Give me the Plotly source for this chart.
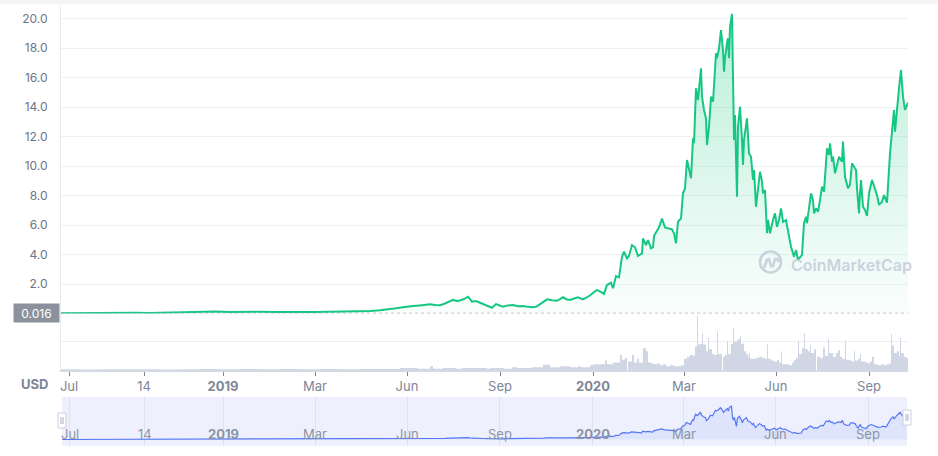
import pandas as pd
import plotly.graph_objects as go

W, H = 938, 456
START_DATE = "2018-06-16"

# (day since START_DATE, price in USD)
PRICE = [
    (0, 0.016), (14, 0.03), (29, 0.02), (44, 0.04), (59, 0.03), (74, 0.05), (89, 0.04), (104, 0.06),
    (119, 0.08), (134, 0.12), (144, 0.10), (154, 0.14), (169, 0.11), (184, 0.13), (199, 0.12), (214, 0.10),
    (229, 0.09), (239, 0.08), (254, 0.10), (269, 0.12), (284, 0.14), (299, 0.13), (309, 0.17), (319, 0.22),
    (329, 0.28), (335, 0.35), (342, 0.42), (347, 0.48), (352, 0.51), (359, 0.55), (364, 0.60), (369, 0.62),
    (374, 0.58), (379, 0.56), (384, 0.68), (389, 0.85), (392, 0.92), (396, 0.85), (399, 0.88), (403, 0.98),
    (407, 1.14), (411, 0.80), (415, 0.84), (419, 0.73), (423, 0.62), (427, 0.50), (431, 0.39), (435, 0.64),
    (439, 0.52), (442, 0.46), (447, 0.55), (452, 0.58), (457, 0.50), (462, 0.51), (467, 0.45), (472, 0.42),
    (476, 0.48), (479, 0.64), (483, 0.80), (486, 0.96), (491, 0.90), (496, 0.87), (499, 0.98), (502, 1.10),
    (506, 0.95), (509, 0.92), (513, 1.02), (517, 1.10), (522, 0.96), (526, 1.10), (529, 1.22), (533, 1.45),
    (536, 1.59), (539, 1.50), (541, 1.41), (543, 1.33), (546, 1.93), (550, 2.09), (552, 1.71), (555, 2.54),
    (558, 2.45), (561, 3.85), (563, 4.19), (566, 3.74), (568, 3.90), (571, 4.64), (574, 4.49), (577, 3.90),
    (581, 4.08), (582, 5.10), (585, 4.64), (587, 4.98), (590, 4.42), (592, 4.50), (593, 5.25), (596, 5.66),
    (598, 5.84), (601, 6.43), (604, 5.84), (607, 5.78), (611, 5.71), (613, 5.44), (615, 4.76), (617, 6.22),
    (620, 6.45), (622, 8.15), (624, 8.49), (626, 10.41), (628, 9.73), (630, 9.17), (632, 11.88), (633, 11.54),
    (635, 15.27), (637, 14.47), (640, 16.62), (641, 14.70), (643, 13.80), (645, 13.23), (646, 11.42), (648, 12.66),
    (650, 14.70), (652, 14.36), (653, 15.42), (655, 17.64), (656, 17.30), (658, 17.98), (660, 19.22), (662, 17.86),
    (663, 16.39), (664, 17.30), (666, 18.32), (667, 18.66), (668, 17.30), (669, 19.44), (671, 20.31), (672, 13.80),
    (673, 11.76), (674, 13.46), (676, 7.92), (677, 12.66), (679, 14.02), (681, 11.76), (682, 10.07), (683, 11.76),
    (685, 12.66), (686, 13.23), (688, 10.86), (690, 10.63), (692, 9.05), (693, 9.73), (695, 7.24), (697, 8.37),
    (699, 9.61), (701, 8.94), (702, 8.15), (704, 8.37), (706, 5.44), (707, 6.34), (709, 5.44), (712, 6.34),
    (714, 6.79), (716, 5.88), (718, 6.34), (720, 7.13), (722, 6.22), (725, 6.34), (727, 5.66), (730, 4.53),
    (733, 3.85), (735, 4.31), (737, 3.63), (741, 3.97), (743, 6.12), (745, 6.56), (746, 6.12), (748, 7.24),
    (750, 8.15), (752, 7.69), (753, 6.79), (755, 7.13), (757, 6.90), (759, 7.69), (761, 8.60), (763, 8.26),
    (765, 10.41), (766, 11.20), (768, 10.75), (769, 11.54), (771, 10.29), (772, 10.63), (774, 9.50), (776, 10.07),
    (778, 10.63), (781, 10.29), (782, 11.65), (784, 9.27), (786, 8.83), (787, 8.49), (789, 8.71), (791, 10.18),
    (793, 9.95), (795, 9.73), (796, 8.49), (798, 6.79), (799, 8.15), (800, 9.05), (802, 7.24), (804, 7.02),
    (806, 6.61), (808, 8.15), (811, 9.05), (813, 8.60), (816, 8.03), (818, 7.36), (821, 7.58), (823, 8.03),
    (826, 7.51), (829, 10.86), (831, 12.66), (833, 13.80), (834, 12.33), (836, 14.02), (838, 15.27), (840, 16.51),
    (842, 14.70), (844, 13.80), (846, 14.25), (847, 14.30),
]

# (day since START_DATE, volume in USD millions)
VOLUME = [
    (0, 0.8), (20, 0.6), (40, 0.9), (60, 0.7), (80, 0.8), (100, 0.6), (120, 0.9), (140, 1.0),
    (160, 0.8), (180, 1.0), (200, 0.9), (220, 1.0), (240, 0.8), (260, 1.0), (280, 0.9), (300, 1.0),
    (319, 1.1), (339, 2.0), (347, 2.0), (356, 1.2), (369, 4.0), (372, 1.2), (382, 2.0), (395, 1.2),
    (401, 2.0), (426, 1.2), (429, 2.0), (443, 1.4), (451, 3.0), (456, 2.0), (471, 3.0), (482, 5.5),
    (489, 3.0), (499, 4.0), (509, 3.0), (517, 4.0), (520, 3.0), (529, 5.0), (532, 6.0), (540, 6.5),
    (544, 10.0), (546, 6.0), (552, 8.0), (559, 16.0), (561, 11.0), (564, 13.0), (566, 0.0), (567, 9.0),
    (571, 16.0), (573, 8.0), (576, 12.0), (578, 8.0), (582, 23.0), (585, 20.0), (587, 8.0), (590, 7.0),
    (593, 6.0), (596, 7.0), (599, 5.0), (602, 6.0), (605, 4.0), (609, 5.0), (613, 4.0), (617, 4.0),
    (620, 5.0), (623, 12.0), (626, 14.0), (629, 16.0), (632, 15.0), (634, 25.0), (636, 57.0), (637, 27.0),
    (639, 28.0), (641, 39.0), (642, 27.0), (645, 20.0), (647, 34.0), (648, 22.0), (651, 17.0), (653, 16.0),
    (656, 41.0), (657, 17.0), (660, 17.0), (661, 0.0), (662, 14.0), (664, 16.0), (666, 31.0), (667, 17.0),
    (670, 28.0), (672, 45.0), (673, 30.0), (676, 32.0), (678, 33.0), (679, 36.0), (680, 28.0), (683, 20.0),
    (685, 17.0), (687, 14.0), (688, 18.0), (689, 12.0), (692, 12.0), (695, 13.0), (698, 14.0), (701, 13.0),
    (704, 12.0), (706, 27.0), (707, 12.0), (710, 10.0), (713, 9.0), (716, 11.0), (718, 8.0), (720, 20.0),
    (721, 6.0), (725, 6.0), (728, 5.0), (731, 8.0), (733, 11.0), (735, 13.0), (737, 31.0), (738, 17.0),
    (741, 23.0), (743, 39.0), (744, 22.0), (747, 20.0), (749, 26.0), (750, 18.0), (753, 22.0), (755, 0.0),
    (756, 14.0), (759, 13.0), (762, 24.0), (764, 15.0), (767, 33.0), (768, 18.0), (772, 14.0), (775, 18.0),
    (777, 21.0), (779, 14.0), (781, 12.0), (784, 31.0), (785, 11.0), (789, 10.0), (791, 9.0), (793, 20.0),
    (794, 10.0), (797, 12.0), (799, 17.0), (800, 9.0), (804, 8.0), (807, 7.0), (809, 9.0), (811, 14.0),
    (813, 6.0), (817, 5.0), (820, 6.0), (823, 5.0), (826, 6.0), (828, 7.0), (830, 38.0), (831, 26.0),
    (833, 18.0), (836, 20.0), (838, 15.0), (839, 34.0), (840, 18.0), (843, 14.0), (845, 13.0), (847, 12.0),
]

PRICE_TICKS = [2, 4, 6, 8, 10, 12, 14, 16, 18, 20]
TICK_DAY = [8, 83, 162, 254, 346, 439, 532, 623, 715, 808]
TICK_LABEL = ["Jul", "14", "<b>2019</b>", "Mar", "Jun", "Sep", "<b>2020</b>", "Mar", "Jun", "Sep"]

start = pd.Timestamp(START_DATE)
price_day = [d for d, _ in PRICE]
price_usd = [v for _, v in PRICE]
vol_day = [d for d, _ in VOLUME]
vol_usd = [v for _, v in VOLUME]

price_dates = [start + pd.Timedelta(days=d) for d in price_day]
vol_dates = [start + pd.Timedelta(days=d) for d in vol_day]
tick_dates = [start + pd.Timedelta(days=d) for d in TICK_DAY]
x_range = [price_dates[0], price_dates[-1]]


def px(x):
    return x / W


def py(y):
    return 1 - y / H


FONT = "Inter, 'Noto Sans', sans-serif"
GREEN = "#16c784"

fig = go.Figure()

fig.add_trace(go.Scatter(
    x=vol_dates, y=vol_usd, xaxis="x", yaxis="y2", mode="lines",
    line=dict(width=0, shape="hv"), fill="tozeroy", fillcolor="#d0d6e3",
    hoverinfo="skip", showlegend=False,
))

fig.add_trace(go.Scatter(
    x=price_dates, y=price_usd, xaxis="x", yaxis="y", mode="lines",
    line=dict(color=GREEN, width=2),
    fill="tozeroy",
    fillgradient=dict(type="vertical", start=0, stop=20.5,
                      colorscale=[[0, "rgba(22,199,132,0.02)"], [1, "rgba(22,199,132,0.30)"]]),
    showlegend=False,
))

fig.add_trace(go.Scatter(
    x=price_dates, y=price_usd, xaxis="x2", yaxis="y3", mode="lines",
    line=dict(color="#5577f4", width=1.2), fill="tozeroy", fillcolor="rgba(85,119,244,0.10)",
    hoverinfo="skip", showlegend=False,
))

fig.update_layout(
    width=W, height=H, margin=dict(l=0, r=0, t=0, b=0), autosize=False,
    paper_bgcolor="white", plot_bgcolor="rgba(0,0,0,0)",
    font=dict(family=FONT, color="#6b7488"),
    xaxis=dict(
        domain=[px(61), px(908)], anchor="y2", type="date", range=x_range,
        tickvals=tick_dates, ticktext=TICK_LABEL, ticks="outside", ticklen=4,
        tickcolor="#7d8597", tickfont=dict(size=13, color="#7d8597"),
        showgrid=False, showline=True, linecolor="#d3d9e5", linewidth=1.5, zeroline=False,
    ),
    yaxis=dict(
        domain=[py(313.5), py(5)], anchor="x", range=[0, (313.5 - 5) / 14.75],
        tickvals=PRICE_TICKS, ticktext=[f"{v:.1f}" for v in PRICE_TICKS],
        tickfont=dict(size=12, color="#6b7488"), ticklabelstandoff=10,
        showgrid=True, gridcolor="#eff2f5", zeroline=False,
        showline=True, linecolor="#e8ebf0", linewidth=1,
    ),
    yaxis2=dict(
        domain=[py(370), py(313.5)], anchor="x", range=[0, 60],
        tickvals=[30], showticklabels=False, showgrid=True, gridcolor="#eceff3",
        zeroline=False, showline=True, linecolor="#e8ebf0", linewidth=1,
    ),
    xaxis2=dict(
        domain=[px(62), px(907)], anchor="y3", type="date", range=x_range,
        tickvals=tick_dates, showticklabels=False, ticks="",
        showgrid=True, gridcolor="#dce2f4", showline=False, zeroline=False,
    ),
    yaxis3=dict(
        domain=[py(446), py(397)], anchor="x2", range=[-3.9, 25.7],
        showticklabels=False, showgrid=False, zeroline=False, showline=False,
    ),
)

shapes = [
    dict(type="rect", xref="paper", yref="paper", x0=0, x1=1, y0=py(4), y1=1,
         fillcolor="#f5f5f7", line=dict(width=0), layer="below"),
    dict(type="rect", xref="paper", yref="paper", x0=px(62), x1=px(907), y0=py(446), y1=py(397),
         fillcolor="#eef1fd", line=dict(width=0), layer="below"),
    dict(type="line", xref="paper", yref="y", x0=px(61), x1=px(908), y0=price_usd[0], y1=price_usd[0],
         line=dict(color="#9aa1ad", width=1, dash="dot")),
    dict(type="circle", xref="paper", yref="paper", x0=px(760), x1=px(781), y0=py(272.5), y1=py(251.5),
         line=dict(color="rgba(190,197,212,0.75)", width=2.6)),
]

wave = [(764, 268), (767, 260), (769, 259), (771, 266), (773, 266), (775, 259), (777, 259), (779, 262)]
path = "M " + " L ".join(f"{px(x):.5f},{py(y):.5f}" for x, y in wave)
shapes.append(dict(type="path", xref="paper", yref="paper", path=path,
                   line=dict(color="rgba(190,197,212,0.75)", width=2.6)))

for (x0, x1, y0, y1) in [(58, 66, 413, 428), (903, 911, 410, 425)]:
    shapes.append(dict(type="rect", xref="paper", yref="paper", x0=px(x0), x1=px(x1), y0=py(y1), y1=py(y0),
                       fillcolor="white", line=dict(color="#c9cfda", width=1)))
    for lx in (x0 + 3, x0 + 5):
        shapes.append(dict(type="line", xref="paper", yref="paper", x0=px(lx), x1=px(lx),
                           y0=py(y1 - 4), y1=py(y0 + 4), line=dict(color="#a9b0bd", width=1)))

fig.update_layout(shapes=shapes)

annotations = [
    dict(text=f"{price_usd[0]:.3f}", xref="paper", yref="y", x=px(60), y=price_usd[0],
         xanchor="right", yanchor="middle", showarrow=False, bgcolor="#8b919d",
         font=dict(color="white", size=12, family=FONT), width=41, height=14, borderpad=2),
    dict(text="<b>USD</b>", xref="paper", yref="paper", x=px(50), y=py(383.5),
         xanchor="right", yanchor="middle", showarrow=False,
         font=dict(color="#7d8597", size=13, family=FONT)),
    dict(text="CoinMarketCap", xref="paper", yref="paper", x=px(789), y=py(265),
         xanchor="left", yanchor="middle", showarrow=False,
         font=dict(color="rgba(190,197,212,0.75)", size=16, family=FONT, weight=600)),
]
for d, lab in zip(tick_dates, TICK_LABEL):
    annotations.append(dict(text=lab, xref="x2", yref="paper", x=d, y=py(434),
                            xanchor="center", yanchor="middle", showarrow=False,
                            font=dict(color="#8c94a6", size=13, family=FONT)))
fig.update_layout(annotations=annotations)

fig.write_html("out.html")
